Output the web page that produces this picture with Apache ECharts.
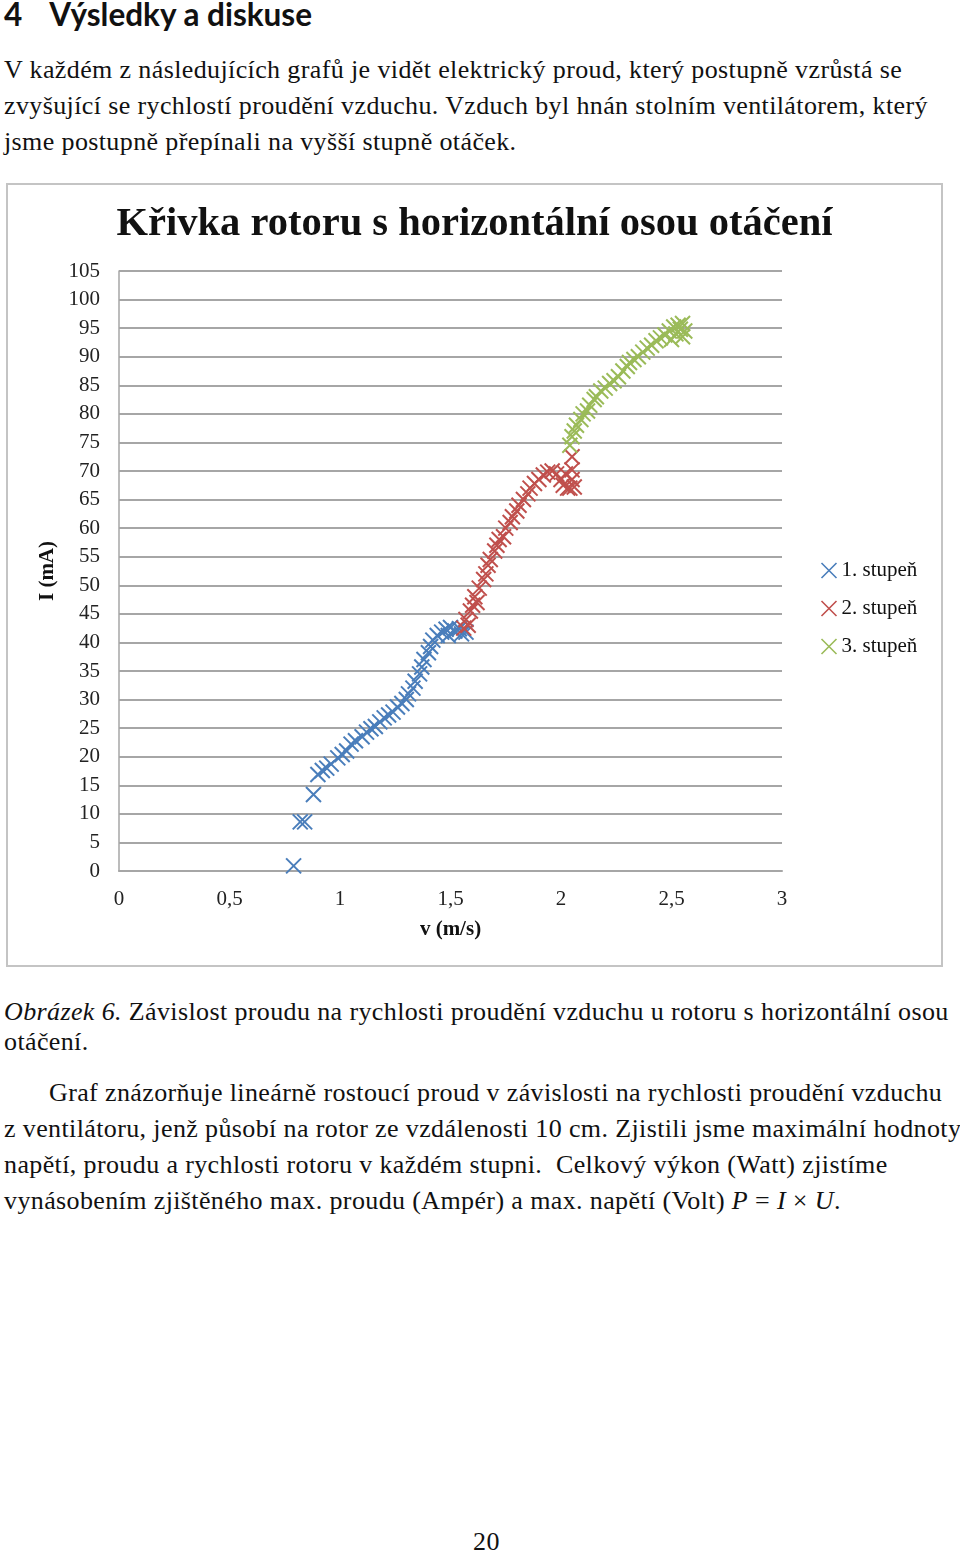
<!DOCTYPE html>
<html>
<head>
<meta charset="utf-8">
<script src="https://cdn.jsdelivr.net/npm/echarts@6/dist/echarts.min.js"></script>
<style>
  html, body { margin: 0; padding: 0; background: #fff; }
  body { width: 960px; height: 1552px; position: relative; overflow: hidden; font-family: "Liberation Serif", serif; color: #111; }
  .t { position: absolute; white-space: nowrap; font-size: 26px; line-height: 36px; letter-spacing: 0.38px; }
  #heading { position: absolute; left: 4px; top: -5px; font-family: Lato, "Liberation Sans", sans-serif; font-weight: bold; font-size: 31.5px; white-space: nowrap; }
  #box { position: absolute; left: 6px; top: 183px; width: 937px; height: 784px; border: 2px solid #c4c4c4; box-sizing: border-box; pointer-events: none; z-index: 2; }
  #chart { position: absolute; left: 6px; top: 183px; width: 937px; height: 784px; }
</style>
</head>
<body>
<div id="heading">4<span style="display:inline-block;width:27px"></span>Výsledky a diskuse</div>
<div class="t" style="left:4px;top:52px">V každém z následujících grafů je vidět elektrický proud, který postupně vzrůstá se</div>
<div class="t" style="left:4px;top:88px">zvyšující se rychlostí proudění vzduchu. Vzduch byl hnán stolním ventilátorem, který</div>
<div class="t" style="left:4px;top:124px">jsme postupně přepínali na vyšší stupně otáček.</div>

<div id="chart"></div>
<div id="box"></div>

<div class="t" style="left:4px;top:994px"><i>Obrázek 6.</i> Závislost proudu na rychlosti proudění vzduchu u rotoru s horizontální osou</div>
<div class="t" style="left:4px;top:1024px">otáčení.</div>
<div class="t" style="left:49px;top:1075px">Graf znázorňuje lineárně rostoucí proud v závislosti na rychlosti proudění vzduchu</div>
<div class="t" style="left:4px;top:1111px">z ventilátoru, jenž působí na rotor ze vzdálenosti 10 cm. Zjistili jsme maximální hodnoty</div>
<div class="t" style="left:4px;top:1147px">napětí, proudu a rychlosti rotoru v každém stupni.&nbsp; Celkový výkon (Watt) zjistíme</div>
<div class="t" style="left:4px;top:1183px">vynásobením zjištěného max. proudu (Ampér) a max. napětí (Volt) <i>P</i> = <i>I</i> × <i>U</i>.</div>
<div class="t" style="left:473px;top:1524px">20</div>

<script>
// ---- data (v in m/s, I in mA) ----
const chartTitle = 'Křivka rotoru s horizontální osou otáčení';
const seriesNames = ['1. stupeň', '2. stupeň', '3. stupeň'];
const seriesColors = ['#4A7EBB', '#C0504D', '#9BBB59'];
const xTicks = [0, 0.5, 1, 1.5, 2, 2.5, 3];
const yTicks = [0,5,10,15,20,25,30,35,40,45,50,55,60,65,70,75,80,85,90,95,100,105];

const stage1 = [
  [0.79,0.9],[0.82,8.6],[0.84,8.6],[0.88,13.4],[0.90,16.9],[0.92,17.6],[0.94,18.0],[0.96,18.7],
  [0.99,19.8],[1.01,20.4],[1.03,21.0],[1.05,22.2],[1.07,22.8],[1.10,23.5],[1.12,24.3],[1.14,24.9],
  [1.16,25.3],[1.18,26.1],[1.20,26.8],[1.22,27.3],[1.24,27.8],[1.26,28.7],[1.28,29.3],[1.30,30.0],
  [1.31,31.0],[1.33,32.0],[1.34,33.2],[1.36,34.5],[1.37,35.7],[1.38,37.0],[1.40,38.2],[1.41,39.3],
  [1.42,40.4],[1.44,41.2],[1.46,41.8],[1.48,42.3],[1.50,42.6],[1.52,42.0],[1.54,42.4],[1.55,41.5],
  [1.57,41.8],[1.49,41.2]
];
const stage2 = [
  [1.56,42.5],[1.57,44.0],[1.58,43.0],[1.59,45.5],[1.60,46.5],[1.61,48.0],[1.62,47.0],[1.63,49.5],
  [1.65,51.0],[1.66,52.0],[1.67,53.5],[1.68,54.5],[1.70,56.0],[1.71,57.0],[1.72,58.0],[1.74,58.5],
  [1.75,60.0],[1.77,61.0],[1.78,62.0],[1.80,63.0],[1.81,64.0],[1.83,65.0],[1.85,66.0],[1.86,67.0],
  [1.88,67.8],[1.90,68.5],[1.92,69.3],[1.94,69.8],[1.96,70.0],[1.98,69.5],[2.00,68.5],[2.01,67.5],
  [2.03,67.0],[2.04,67.0],[2.05,68.5],[2.06,67.2],[2.02,69.5],[2.05,70.2],[2.05,72.5]
];
const stage3 = [
  [2.04,74.5],[2.05,76.0],[2.06,77.0],[2.07,78.0],[2.09,79.0],[2.10,80.0],[2.12,80.5],[2.13,81.5],
  [2.15,82.5],[2.16,83.0],[2.18,84.0],[2.20,84.5],[2.22,85.3],[2.24,85.8],[2.26,86.5],[2.28,87.5],
  [2.30,88.3],[2.31,89.0],[2.33,89.5],[2.35,90.0],[2.37,90.8],[2.39,91.5],[2.41,92.0],[2.43,92.8],
  [2.45,93.3],[2.47,93.8],[2.49,94.5],[2.51,95.2],[2.52,94.0],[2.53,95.5],[2.54,94.8],[2.55,93.5],
  [2.55,95.8],[2.56,94.5],[2.50,93.0]
];
const allStages = [stage1, stage2, stage3];

// ---- chart ----
const crossPath = 'path://M0,0L10,10M10,0L0,10';
const serifFont = '"Liberation Serif", serif';
const chart = echarts.init(document.getElementById('chart'), null, { renderer: 'canvas' });
chart.setOption({
  animation: false,
  backgroundColor: 'transparent',
  title: {
    text: chartTitle, left: 'center', top: 16,
    textStyle: { fontFamily: serifFont, fontWeight: 'bold', fontSize: 40.5, color: '#111' }
  },
  legend: {
    orient: 'vertical', left: 808, top: 372, itemGap: 17,
    itemWidth: 15, itemHeight: 15, icon: crossPath,
    textStyle: { fontFamily: serifFont, fontSize: 21, color: '#111' },
    data: seriesNames.map((n, i) => ({ name: n, itemStyle: { color: 'none', borderColor: seriesColors[i], borderWidth: 1.6 } }))
  },
  grid: { left: 113, top: 88, width: 663, height: 600, containLabel: false },
  xAxis: {
    type: 'value', min: xTicks[0], max: xTicks[xTicks.length - 1], interval: 0.5,
    name: 'v (m/s)', nameLocation: 'middle', nameGap: 48,
    nameTextStyle: { fontFamily: serifFont, fontWeight: 'bold', fontSize: 21, color: '#111' },
    axisLine: { show: true, lineStyle: { color: '#a6a6a6', width: 2 } },
    axisTick: { show: false },
    splitLine: { show: false },
    axisLabel: { margin: 18, fontFamily: serifFont, fontSize: 21, color: '#222',
      formatter: v => String(v).replace('.', ',') }
  },
  yAxis: {
    type: 'value', min: yTicks[0], max: yTicks[yTicks.length - 1], interval: 5,
    name: 'I (mA)', nameLocation: 'middle', nameGap: 61, nameRotate: 90,
    nameTextStyle: { fontFamily: serifFont, fontWeight: 'bold', fontSize: 21, color: '#111' },
    axisLine: { show: true, lineStyle: { color: '#a6a6a6', width: 1.5 } },
    axisTick: { show: false },
    splitLine: { show: true, lineStyle: { color: '#a6a6a6', width: 2 } },
    axisLabel: { margin: 19, fontFamily: serifFont, fontSize: 21, color: '#222' }
  },
  series: allStages.map((d, i) => ({
    name: seriesNames[i], type: 'scatter', data: d,
    symbol: crossPath, symbolSize: 15,
    itemStyle: { color: 'none', borderColor: seriesColors[i], borderWidth: 2, opacity: 1 }
  }))
});
</script>
</body>
</html>
